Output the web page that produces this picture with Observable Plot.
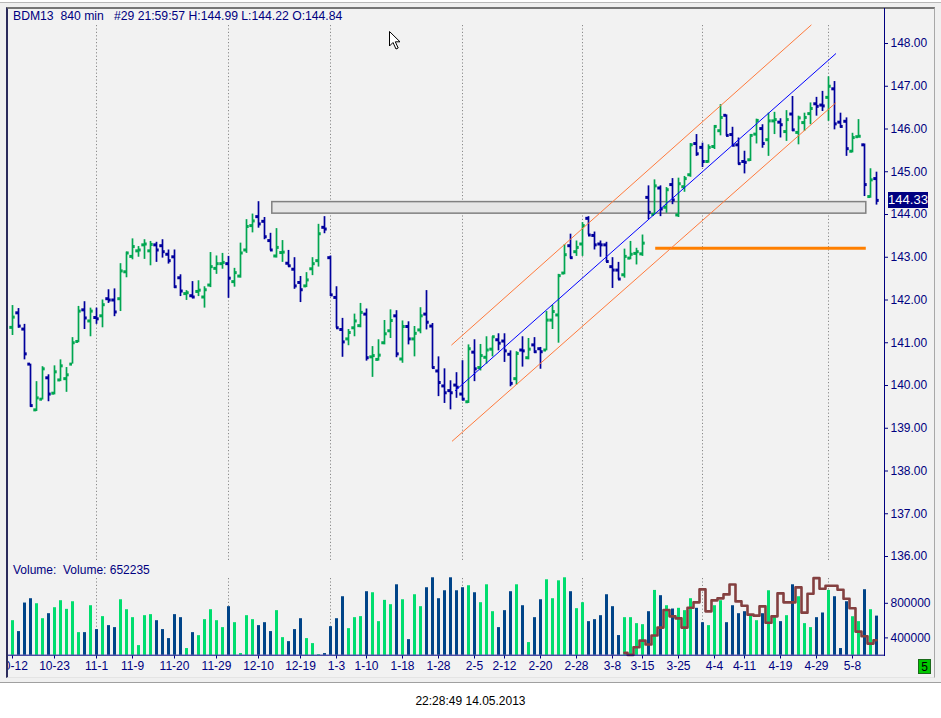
<!DOCTYPE html>
<html>
<head>
<meta charset="utf-8">
<script src="https://cdn.jsdelivr.net/npm/d3@7"></script>
<script src="https://cdn.jsdelivr.net/npm/@observablehq/plot@0.6"></script>
<style>
  html, body { margin: 0; padding: 0; background: #ffffff; }
  body { width: 941px; height: 718px; position: relative; overflow: hidden;
         font-family: "Liberation Sans", Arial, sans-serif; }
  .abs { position: absolute; }
  #outer { left: 0; top: 2px; width: 941px; height: 681px; background: #f0f0f0;
           border-top: 1px solid #b8b8b8; border-bottom: 1px solid #a0a0a0; box-sizing: border-box; }
  #panel { left: 6px; top: 7px; width: 929px; height: 671px; background: #f2f2f2; box-sizing: border-box;
           border-left: 2px solid #2c2c5c; border-top: 2px solid #767676;
           border-right: 1px solid #a8a8a8; border-bottom: 1px solid #e4e4e4; }
  .txt { font-size: 12px; color: #000080; white-space: pre; line-height: 16px; }
  #priceWrap { left: 8px; top: 0; width: 933px; height: 562px; overflow: hidden; }
  #volWrap { left: 8px; top: 556px; width: 933px; height: 124px; overflow: hidden; }
  #axisLine { left: 884px; top: 8px; width: 1px; height: 648px; background: #000080; }
</style>
</head>
<body>
<div id="outer" class="abs"></div>
<div id="panel" class="abs"></div>
<div id="priceWrap" class="abs"></div>
<div id="volWrap" class="abs"></div>
<div id="axisLine" class="abs"></div>
<div id="header" class="abs txt" style="left:13px;top:8px;font-size:12.2px;"></div>
<div id="volText" class="abs txt" style="left:13px;top:562px;"></div>
<div id="lastBox" class="abs" style="left:888px;width:40px;height:16px;background:#000080;color:#fff;font-size:13px;line-height:16px;text-align:center;"></div>
<div id="stamp" class="abs" style="left:0;top:693px;width:941px;text-align:center;font-size:12px;line-height:16px;color:#000;"></div>
<div class="abs" style="left:918px;top:659px;width:13px;height:15px;background:#00c800;border:1px solid #1a6a1a;box-sizing:border-box;font-size:12px;line-height:14px;text-align:center;color:#000;">5</div>
<svg class="abs" style="left:389px;top:31px;" width="14" height="20" viewBox="0 0 14 20">
  <path d="M0.5,0.5 L0.5,15 L4,11.5 L7,18 L9.2,17 L6.3,10.8 L11,10.8 Z" fill="#ffffff" stroke="#000000" stroke-width="1"/>
</svg>
<script>
// ---------------- data ----------------
const headerText = "BDM13  840 min   #29 21:59:57 H:144.99 L:144.22 O:144.84";
const volumeText = "Volume:  Volume: 652235";
const stampText = "22:28:49 14.05.2013";

const opens = [141.36,141.70,141.32,140.50,139.43,139.68,140.18,139.82,140.13,140.16,
140.50,141.03,141.77,141.51,141.59,141.63,142.03,142.00,142.03,142.66,
143.02,143.15,143.29,143.15,143.29,143.27,143.07,143.01,142.52,142.15,
142.10,142.20,142.07,142.35,142.74,142.85,142.85,142.43,142.56,143.17,
143.74,143.95,143.84,143.39,143.03,143.11,142.86,142.72,142.41,142.33,
142.73,142.92,143.70,142.99,142.06,141.31,141.09,141.35,141.40,141.67,
140.67,140.61,141.00,141.28,141.63,140.62,141.38,141.09,141.30,141.67,
141.39,140.34,139.99,139.88,140.01,139.80,139.62,140.78,140.42,140.66,
140.85,141.07,141.04,140.73,140.16,140.83,140.65,140.95,140.86,140.83,
141.53,141.65,142.63,143.27,143.13,143.31,143.91,143.51,143.31,143.29,
142.78,142.70,142.59,142.98,143.09,143.08,144.40,144.00,144.62,144.17,
144.70,143.99,144.65,144.93,145.66,145.57,145.24,145.59,145.96,146.32,
145.87,145.63,145.24,145.28,145.88,146.01,145.75,146.19,146.16,145.94,
146.35,145.92,146.15,146.36,146.59,146.56,146.74,146.94,146.16,146.18,
145.48,145.82,145.63,144.42,144.84];
const highs = [141.87,141.80,141.43,140.50,140.09,140.44,140.25,140.46,140.60,140.42,
141.12,141.85,141.96,141.81,141.81,142.00,142.24,142.26,142.85,143.12,
143.43,143.25,143.41,143.37,143.35,143.41,143.17,143.17,142.59,142.22,
142.43,142.45,142.31,143.11,143.03,143.09,143.02,142.74,143.33,143.88,
144.01,144.30,143.93,143.56,143.67,143.39,143.16,142.99,142.55,142.64,
142.99,143.77,143.95,143.03,142.31,141.57,141.31,141.67,141.92,141.79,
140.91,141.07,141.52,141.77,141.75,141.51,141.49,141.38,141.82,142.22,
141.45,140.67,140.39,140.11,140.30,140.58,140.95,141.07,140.96,141.14,
141.14,141.21,141.21,140.81,140.79,141.14,141.10,141.12,140.89,141.73,
141.87,142.60,143.30,143.54,143.38,143.81,143.95,143.59,143.38,143.35,
142.99,142.88,143.19,143.37,143.21,143.52,144.67,144.81,144.67,144.63,
144.84,144.85,144.89,145.66,145.87,145.67,145.63,146.08,146.57,146.33,
146.04,145.79,145.48,145.87,146.23,146.10,146.37,146.39,146.24,146.43,
146.76,146.30,146.37,146.61,146.74,146.88,147.22,147.11,146.37,146.26,
145.90,146.22,145.65,145.07,144.99];
const lows = [141.17,141.34,140.60,139.49,139.39,139.66,139.62,139.78,140.09,139.84,
140.50,141.00,141.31,141.14,141.43,141.35,141.92,141.61,141.73,142.52,
142.94,143.00,142.95,142.80,142.88,142.98,142.84,142.27,142.08,141.99,
142.03,142.08,141.81,142.29,142.60,142.72,142.04,142.30,142.51,143.09,
143.57,143.68,143.41,143.15,142.98,142.88,142.77,142.25,141.94,142.29,
142.57,142.77,143.55,142.08,141.34,140.66,140.93,141.14,141.35,140.57,
140.19,140.57,140.95,141.10,140.65,140.52,140.95,140.67,141.21,141.30,
140.39,139.74,139.58,139.43,139.70,139.64,139.58,140.09,140.34,140.50,
140.67,140.81,140.54,139.97,140.01,140.43,140.60,140.75,140.38,140.81,
141.31,140.99,142.59,142.96,143.02,143.02,143.52,143.17,143.00,142.88,
142.27,142.47,142.51,142.94,142.82,143.02,143.88,143.99,143.95,144.03,
144.23,143.93,144.52,144.87,145.36,145.10,145.20,145.52,145.84,145.83,
145.59,145.16,144.95,145.24,145.65,145.55,145.36,145.87,145.79,145.71,
145.94,145.63,145.94,146.10,146.30,146.41,146.18,145.98,146.02,145.36,
145.44,145.80,144.42,144.38,144.22];
const closes = [141.60,141.39,140.74,139.53,139.71,140.39,139.80,140.32,140.46,140.25,
141.00,141.74,141.58,141.74,141.56,141.89,142.00,141.72,142.68,143.10,
143.25,143.17,143.31,143.30,143.17,143.13,142.92,142.31,142.21,142.17,
142.07,142.23,142.24,142.78,142.85,142.88,142.51,142.64,143.10,143.72,
143.85,143.78,143.48,143.17,143.23,143.12,142.80,142.33,142.24,142.47,
142.85,143.55,143.66,142.12,141.35,141.02,141.24,141.51,141.71,140.65,
140.70,140.71,141.21,141.52,140.74,141.38,141.09,141.22,141.63,141.48,
140.42,140.07,139.83,139.83,139.96,139.68,140.86,140.39,140.70,140.83,
141.14,140.99,140.81,140.05,140.75,140.81,140.85,140.79,140.79,141.53,
141.73,142.57,143.06,142.99,143.23,143.74,143.52,143.29,143.29,142.90,
142.70,142.49,143.02,143.07,143.13,143.33,144.05,144.67,144.13,144.58,
144.34,144.72,144.84,145.63,145.42,145.24,145.57,146.06,146.27,145.85,
145.62,145.19,145.22,145.85,146.20,145.66,146.19,146.22,146.10,146.22,
145.98,146.26,146.27,146.48,146.53,146.54,147.00,146.12,146.06,145.54,
145.80,145.83,144.70,144.81,144.33];
// volume in thousands of contracts
const volumesK = [599,473,803,853,795,622,680,749,830,730,818,461,461,772,496,646,542,519,841,726,
634,311,657,669,599,496,392,669,634,277,461,426,611,726,599,519,761,576,219,657,
611,542,576,473,715,403,357,496,622,392,334,207,219,530,622,876,507,634,646,934,
922,588,834,784,1014,841,380,899,761,980,1095,853,945,1095,945,980,1003,922,807,1014,
703,519,715,934,1014,772,346,634,841,1072,853,1060,1095,934,738,807,588,611,657,899,
761,427,634,634,565,553,703,949,888,772,734,742,715,853,742,576,542,772,830,576,
772,680,703,665,599,680,945,657,588,657,1014,876,565,519,634,688,949,876,277,818,
645,588,957,726,652];
// second (brown) volume-panel series, starting at bar 102, in volume-axis units (thousands)
const oiStart = 102;
const oiK = [227,204,292,369,323,427,519,722,649,626,519,749,811,961,707,834,857,903,1018,822,
772,669,657,765,576,649,915,811,811,984,692,911,1091,968,1003,1003,957,853,742,473,
419,334,373];

const tickIdx = [0,7,14,20,27,34,41,48,54,59,65,71,77,82,88,94,100,105,111,117,122,128,134,140];
const tickLabels = ["10-12","10-23","11-1","11-9","11-20","11-29","12-10","12-19","1-3","1-10","1-18","1-28",
  "2-5","2-12","2-20","2-28","3-8","3-15","3-25","4-4","4-11","4-19","4-29","5-8"];
const monthStarts = [14,36,53,75,95,115,136];
const priceTicks = [136,137,138,139,140,141,142,143,144,145,146,147,148];
const volTicks = [400000, 800000];
const lastPrice = 144.33;

// drawn objects (bar index, price)
const midLine = [{i: 73.8, p: 139.88}, {i: 137.2, p: 147.76}];
const upperLine = [{i: 73.2, p: 140.95}, {i: 133.1, p: 148.43}];
const lowerLine = [{i: 73.3, p: 138.70}, {i: 137.2, p: 146.61}];
const zone = [{i1: 43.3, i2: 142.3, p1: 144.02, p2: 144.29}];
const level = [{i1: 107.2, i2: 142.3, p: 143.21}];

// ---------------- build ----------------
const UP = "#00a651", DOWN = "#00009c", VUP = "#00dd6e", VDOWN = "#004488", NAVY = "#000080";
const bars = opens.map((o, i) => ({i, o, h: highs[i], l: lows[i], c: closes[i],
  v: volumesK[i] * 1000, up: closes[i] >= o}));
const oi = oiK.map((v, k) => ({i: oiStart + k, v: v * 1000}));
const font = '"Liberation Sans", Arial, sans-serif';

document.getElementById("header").textContent = headerText;
document.getElementById("volText").textContent = volumeText;
document.getElementById("stamp").textContent = stampText;

const price = Plot.plot({
  width: 933, height: 562,
  marginTop: 25, marginBottom: 2, marginLeft: 0, marginRight: 57,
  style: {background: "transparent", fontFamily: font, fontSize: "12px", overflow: "visible"},
  x: {domain: [0, 144], range: [4, 868], axis: null},
  y: {domain: [136, 148], range: [556, 43], axis: null},
  marks: [
    Plot.ruleX(monthStarts, {x: d => d, stroke: "#8a8a8a", strokeDasharray: "1.2,2.2", strokeWidth: 1}),
    Plot.rect(zone, {x1: "i1", x2: "i2", y1: "p1", y2: "p2", fill: "#e6e6e6", stroke: "#808080", strokeWidth: 1.5}),
    Plot.ruleY(level, {y: "p", x1: "i1", x2: "i2", stroke: "#ff7f00", strokeWidth: 3}),
    Plot.ruleX(bars, {x: "i", y1: "l", y2: "h", stroke: d => d.up ? UP : DOWN, strokeWidth: 1.7}),
    Plot.ruleY(bars, {y: "o", x1: d => d.i - 0.45, x2: "i", stroke: d => d.up ? UP : DOWN, strokeWidth: 3}),
    Plot.ruleY(bars, {y: "c", x1: "i", x2: d => d.i + 0.45, stroke: d => d.up ? UP : DOWN, strokeWidth: 3}),
    Plot.line(upperLine, {x: "i", y: "p", stroke: "#ff7a3c", strokeWidth: 1}),
    Plot.line(lowerLine, {x: "i", y: "p", stroke: "#ff7a3c", strokeWidth: 1}),
    Plot.line(midLine, {x: "i", y: "p", stroke: "#0000ff", strokeWidth: 1}),
    Plot.axisY({anchor: "right", ticks: priceTicks, tickFormat: d => d.toFixed(2), tickSize: 3, tickPadding: 3,
      color: NAVY, fontSize: 12, label: null})
  ]
});
document.getElementById("priceWrap").appendChild(price);

const yLast = price.scale("y").apply(lastPrice);
const box = document.getElementById("lastBox");
box.style.top = (yLast - 8) + "px";
box.textContent = lastPrice.toFixed(2);

const vol = Plot.plot({
  width: 933, height: 124,
  marginTop: 22, marginBottom: 24.5, marginLeft: 0, marginRight: 57,
  style: {background: "transparent", fontFamily: font, fontSize: "12px", overflow: "visible"},
  x: {domain: [0, 144], range: [4, 868], axis: null},
  y: {domain: [200000, 1200000], range: [98.7, 12.2], axis: null},
  marks: [
    Plot.ruleX(monthStarts, {x: d => d, stroke: "#8a8a8a", strokeDasharray: "1.2,2.2", strokeWidth: 1}),
    Plot.ruleX(bars, {x: "i", y1: 200000, y2: "v", stroke: d => d.up ? VUP : VDOWN, strokeWidth: 3}),
    Plot.line(oi, {x: "i", y: "v", curve: "step", stroke: "#844040", strokeWidth: 2.6}),
    Plot.ruleY([200000], {stroke: NAVY, strokeWidth: 1}),
    Plot.axisY({anchor: "right", ticks: volTicks, tickFormat: d => String(d), tickSize: 3, tickPadding: 3,
      color: NAVY, fontSize: 12, label: null}),
    Plot.axisX({anchor: "bottom", ticks: tickIdx, tickFormat: d => tickLabels[tickIdx.indexOf(d)],
      tickSize: 3, tickPadding: 2, color: NAVY, fontSize: 12, label: null})
  ]
});
document.getElementById("volWrap").appendChild(vol);
</script>
</body>
</html>
